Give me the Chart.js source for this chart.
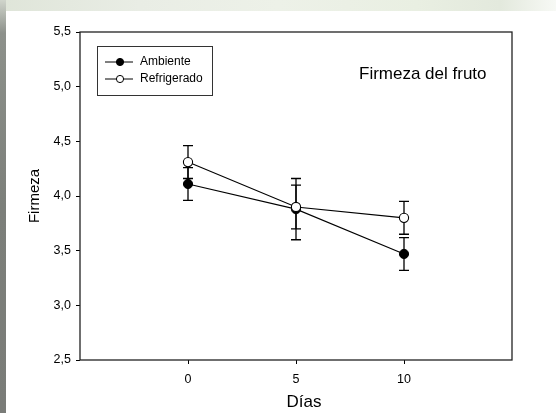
<!DOCTYPE html>
<html><head><meta charset="utf-8">
<script src="https://cdn.jsdelivr.net/npm/chart.js@4/dist/chart.umd.min.js"></script>
<style>
html,body{margin:0;padding:0;width:556px;height:413px;overflow:hidden;background:#fff;}
#top{position:absolute;left:0;top:0;width:556px;height:11px;background:linear-gradient(90deg,#dfe5d9 0%,#e9ede5 25%,#edf1e8 50%,#e9efe2 75%,#e3e9dd 90%,#f7f9f5 100%);}
#left{position:absolute;left:0;top:0;width:6px;height:413px;background:linear-gradient(180deg,#d0d5cc 0%,#8d918b 8%,#7c7f7a 50%,#7a7c78 100%);}
#wrap{position:absolute;left:6px;top:11px;width:550px;height:402px;background:#fff;}
</style></head><body>
<div id="top"></div><div id="left"></div>
<div id="wrap"><canvas id="c" width="550" height="402"></canvas></div>
<script>
const days = [0, 5, 10];
const ambiente = [4.11, 3.88, 3.47];
const ambienteErr = [0.15, 0.28, 0.15];
const refrigerado = [4.31, 3.90, 3.80];
const refrigeradoErr = [0.15, 0.20, 0.15];
const yTicks = [2.5, 3.0, 3.5, 4.0, 4.5, 5.0, 5.5];
const xTicks = [0, 5, 10];
const seriesNames = ['Ambiente', 'Refrigerado'];
const chartTitle = 'Firmeza del fruto';
const xTitle = 'Días';
const yTitle = 'Firmeza';

const FONT = '"Liberation Sans", Arial, sans-serif';
const errs = [ambienteErr, refrigeradoErr];

const errorBars = {
  id: 'errorBars',
  beforeDatasetsDraw(chart) {
    const ctx = chart.ctx, xs = chart.scales.x, ys = chart.scales.y;
    ctx.save();
    ctx.strokeStyle = '#000';
    ctx.lineWidth = 1.3;
    chart.data.datasets.forEach((ds, i) => {
      ds.data.forEach((p, j) => {
        const e = errs[i][j];
        const x = xs.getPixelForValue(p.x);
        const y1 = ys.getPixelForValue(p.y + e), y2 = ys.getPixelForValue(p.y - e);
        ctx.beginPath();
        ctx.moveTo(x, y1); ctx.lineTo(x, y2);
        ctx.moveTo(x - 5, y1); ctx.lineTo(x + 5, y1);
        ctx.moveTo(x - 5, y2); ctx.lineTo(x + 5, y2);
        ctx.stroke();
      });
    });
    ctx.restore();
  }
};

const decor = {
  id: 'decor',
  afterDraw(chart) {
    const ctx = chart.ctx, a = chart.chartArea;
    ctx.save();
    ctx.strokeStyle = '#222';
    ctx.lineWidth = 1.3;
    ctx.strokeRect(a.left, a.top, a.right - a.left, a.bottom - a.top);
    const lx = a.left + 17, ly = a.top + 14;
    ctx.lineWidth = 1;
    ctx.strokeStyle = '#333';
    ctx.strokeRect(lx + 0.5, ly + 0.5, 115, 49);
    ctx.font = '12px ' + FONT;
    ctx.textBaseline = 'middle';
    ctx.textAlign = 'left';
    chart.data.datasets.forEach((ds, i) => {
      const ry = ly + 16 + i * 17;
      ctx.strokeStyle = '#000';
      ctx.lineWidth = 1;
      ctx.beginPath(); ctx.moveTo(lx + 8, ry); ctx.lineTo(lx + 36, ry); ctx.stroke();
      ctx.beginPath(); ctx.arc(lx + 23, ry, 3.6, 0, Math.PI * 2);
      ctx.fillStyle = ds.pointBackgroundColor; ctx.fill(); ctx.stroke();
      ctx.fillStyle = '#000';
      ctx.fillText(seriesNames[i], lx + 43, ry);
    });
    ctx.font = '17px ' + FONT;
    ctx.fillStyle = '#000';
    ctx.fillText(chartTitle, a.left + 279, a.top + 42);
    ctx.textAlign = 'center';
    ctx.fillText(xTitle, (a.left + a.right) / 2 + 8, 391);
    ctx.font = '15px ' + FONT;
    ctx.translate(29, (a.top + a.bottom) / 2);
    ctx.rotate(-Math.PI / 2);
    ctx.fillText(yTitle, 0, 0);
    ctx.restore();
  }
};

new Chart(document.getElementById('c'), {
  type: 'scatter',
  data: {
    datasets: [
      { label: seriesNames[0], data: days.map((d, i) => ({x: d, y: ambiente[i]})),
        showLine: true, borderColor: '#000', borderWidth: 1.1,
        pointRadius: 4.6, pointBackgroundColor: '#000', pointBorderColor: '#000', pointBorderWidth: 1, order: 2 },
      { label: seriesNames[1], data: days.map((d, i) => ({x: d, y: refrigerado[i]})),
        showLine: true, borderColor: '#000', borderWidth: 1.1,
        pointRadius: 4.6, pointBackgroundColor: '#fff', pointBorderColor: '#000', pointBorderWidth: 1.1, order: 1 }
    ]
  },
  options: {
    responsive: false,
    animation: false,
    devicePixelRatio: 1,
    layout: { padding: { top: 21, right: 44, left: 0, bottom: 0 } },
    plugins: { legend: { display: false }, tooltip: { enabled: false } },
    scales: {
      x: {
        type: 'linear', min: -5, max: 15,
        afterBuildTicks: s => { s.ticks = xTicks.map(v => ({value: v})); },
        afterFit: s => { s.height = 53; },
        grid: { drawOnChartArea: false, drawTicks: true, tickLength: 4, color: '#000' },
        border: { display: false },
        ticks: { color: '#000', font: { size: 12.5, family: FONT }, padding: 8, maxRotation: 0 }
      },
      y: {
        min: 2.5, max: 5.5,
        afterBuildTicks: s => { s.ticks = yTicks.map(v => ({value: v})); },
        afterFit: s => { s.width = 74; },
        grid: { drawOnChartArea: false, drawTicks: true, tickLength: 4, color: '#000' },
        border: { display: false },
        ticks: { color: '#000', font: { size: 12.5, family: FONT }, padding: 5,
          callback: v => v.toFixed(1).replace('.', ',') }
      }
    }
  },
  plugins: [errorBars, decor]
});
</script>
</body></html>
